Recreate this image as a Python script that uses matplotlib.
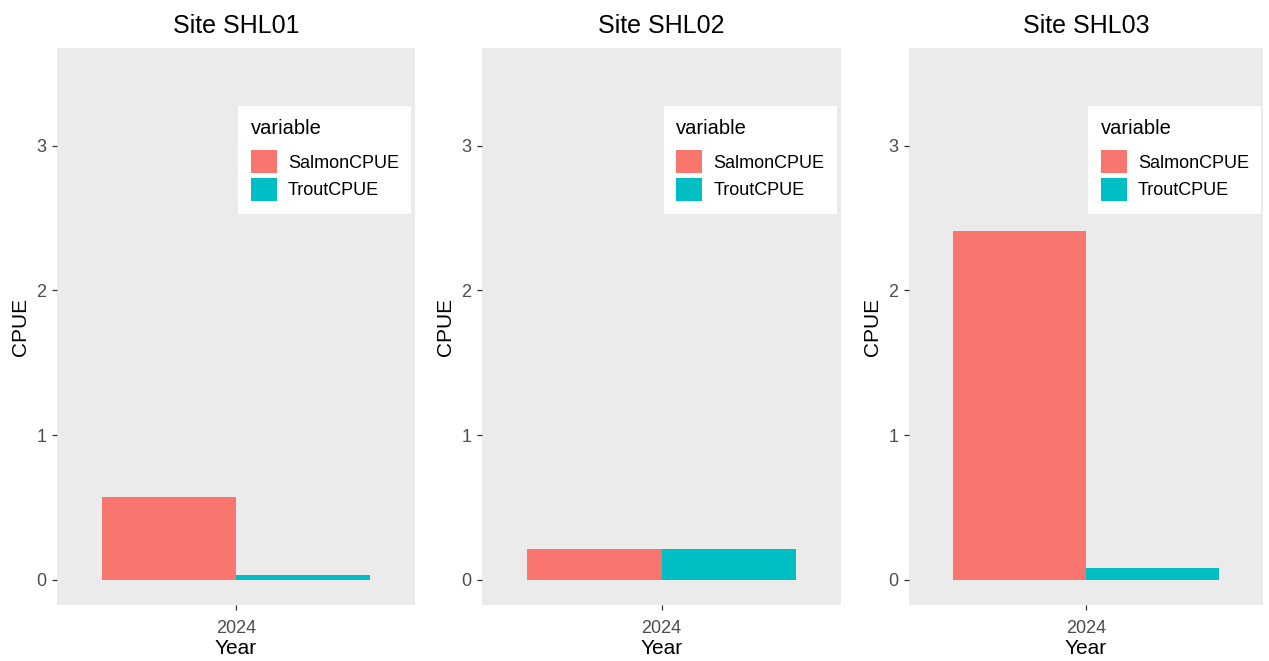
import matplotlib
matplotlib.use("Agg")
import matplotlib.pyplot as plt
from matplotlib.patches import Patch

plt.rcParams['font.family'] = ['Liberation Sans', 'DejaVu Sans']

# data
sites = ["Site SHL01", "Site SHL02", "Site SHL03"]
year_labels = ["2024"]
salmon_cpue = [0.57, 0.21, 2.41]
trout_cpue = [0.03, 0.21, 0.083]
variables = ["SalmonCPUE", "TroutCPUE"]
colors = ["#F8766D", "#00BFC4"]

W, H = 1269, 661
fig = plt.figure(figsize=(W / 100, H / 100), dpi=100)

# panel pixel extents (left, right), top, bottom
panels = [(57, 415), (482, 841), (909, 1263)]
top, bottom = 48, 605

for i, (l, r) in enumerate(panels):
    ax = fig.add_axes([l / W, (H - bottom) / H, (r - l) / W, (bottom - top) / H])
    ax.set_facecolor("#EBEBEB")
    for s in ax.spines.values():
        s.set_visible(False)

    x = 1
    ax.bar(x - 0.225, salmon_cpue[i], width=0.45, color=colors[0])
    ax.bar(x + 0.225, trout_cpue[i], width=0.45, color=colors[1])

    ax.set_xlim(0.4, 1.6)
    ax.set_ylim(-0.175, 3.675)
    ax.set_xticks([1])
    ax.set_xticklabels(year_labels)
    ax.set_yticks([0, 1, 2, 3])
    ax.tick_params(axis="both", length=3.5, width=0.9, color="#333333",
                   labelcolor="#4D4D4D", labelsize=13, pad=4)
    ax.tick_params(axis="x", pad=7)
    ax.set_xlabel("Year", fontsize=15, color="black", labelpad=2)
    ax.set_ylabel("CPUE", fontsize=15, color="black", labelpad=5)
    ax.set_title(sites[i], fontsize=18, color="black", pad=11)

    handles = [Patch(facecolor=c, edgecolor="none") for c in colors]
    leg = ax.legend(handles, variables, title="variable", loc="upper left",
                    bbox_to_anchor=(0.506, 0.896), frameon=True, fancybox=False,
                    fontsize=13, title_fontsize=14.5, handlelength=1.45,
                    handleheight=1.6, handletextpad=0.6, labelspacing=0.25,
                    borderpad=0.7, borderaxespad=0)
    leg.get_frame().set_facecolor("white")
    leg.get_frame().set_edgecolor("none")
    leg.get_frame().set_alpha(1)
    leg._legend_box.align = "left"
    leg._legend_box.sep = 9  # a bit more room under the legend title

fig.savefig("out.png", dpi=100, facecolor="white")
